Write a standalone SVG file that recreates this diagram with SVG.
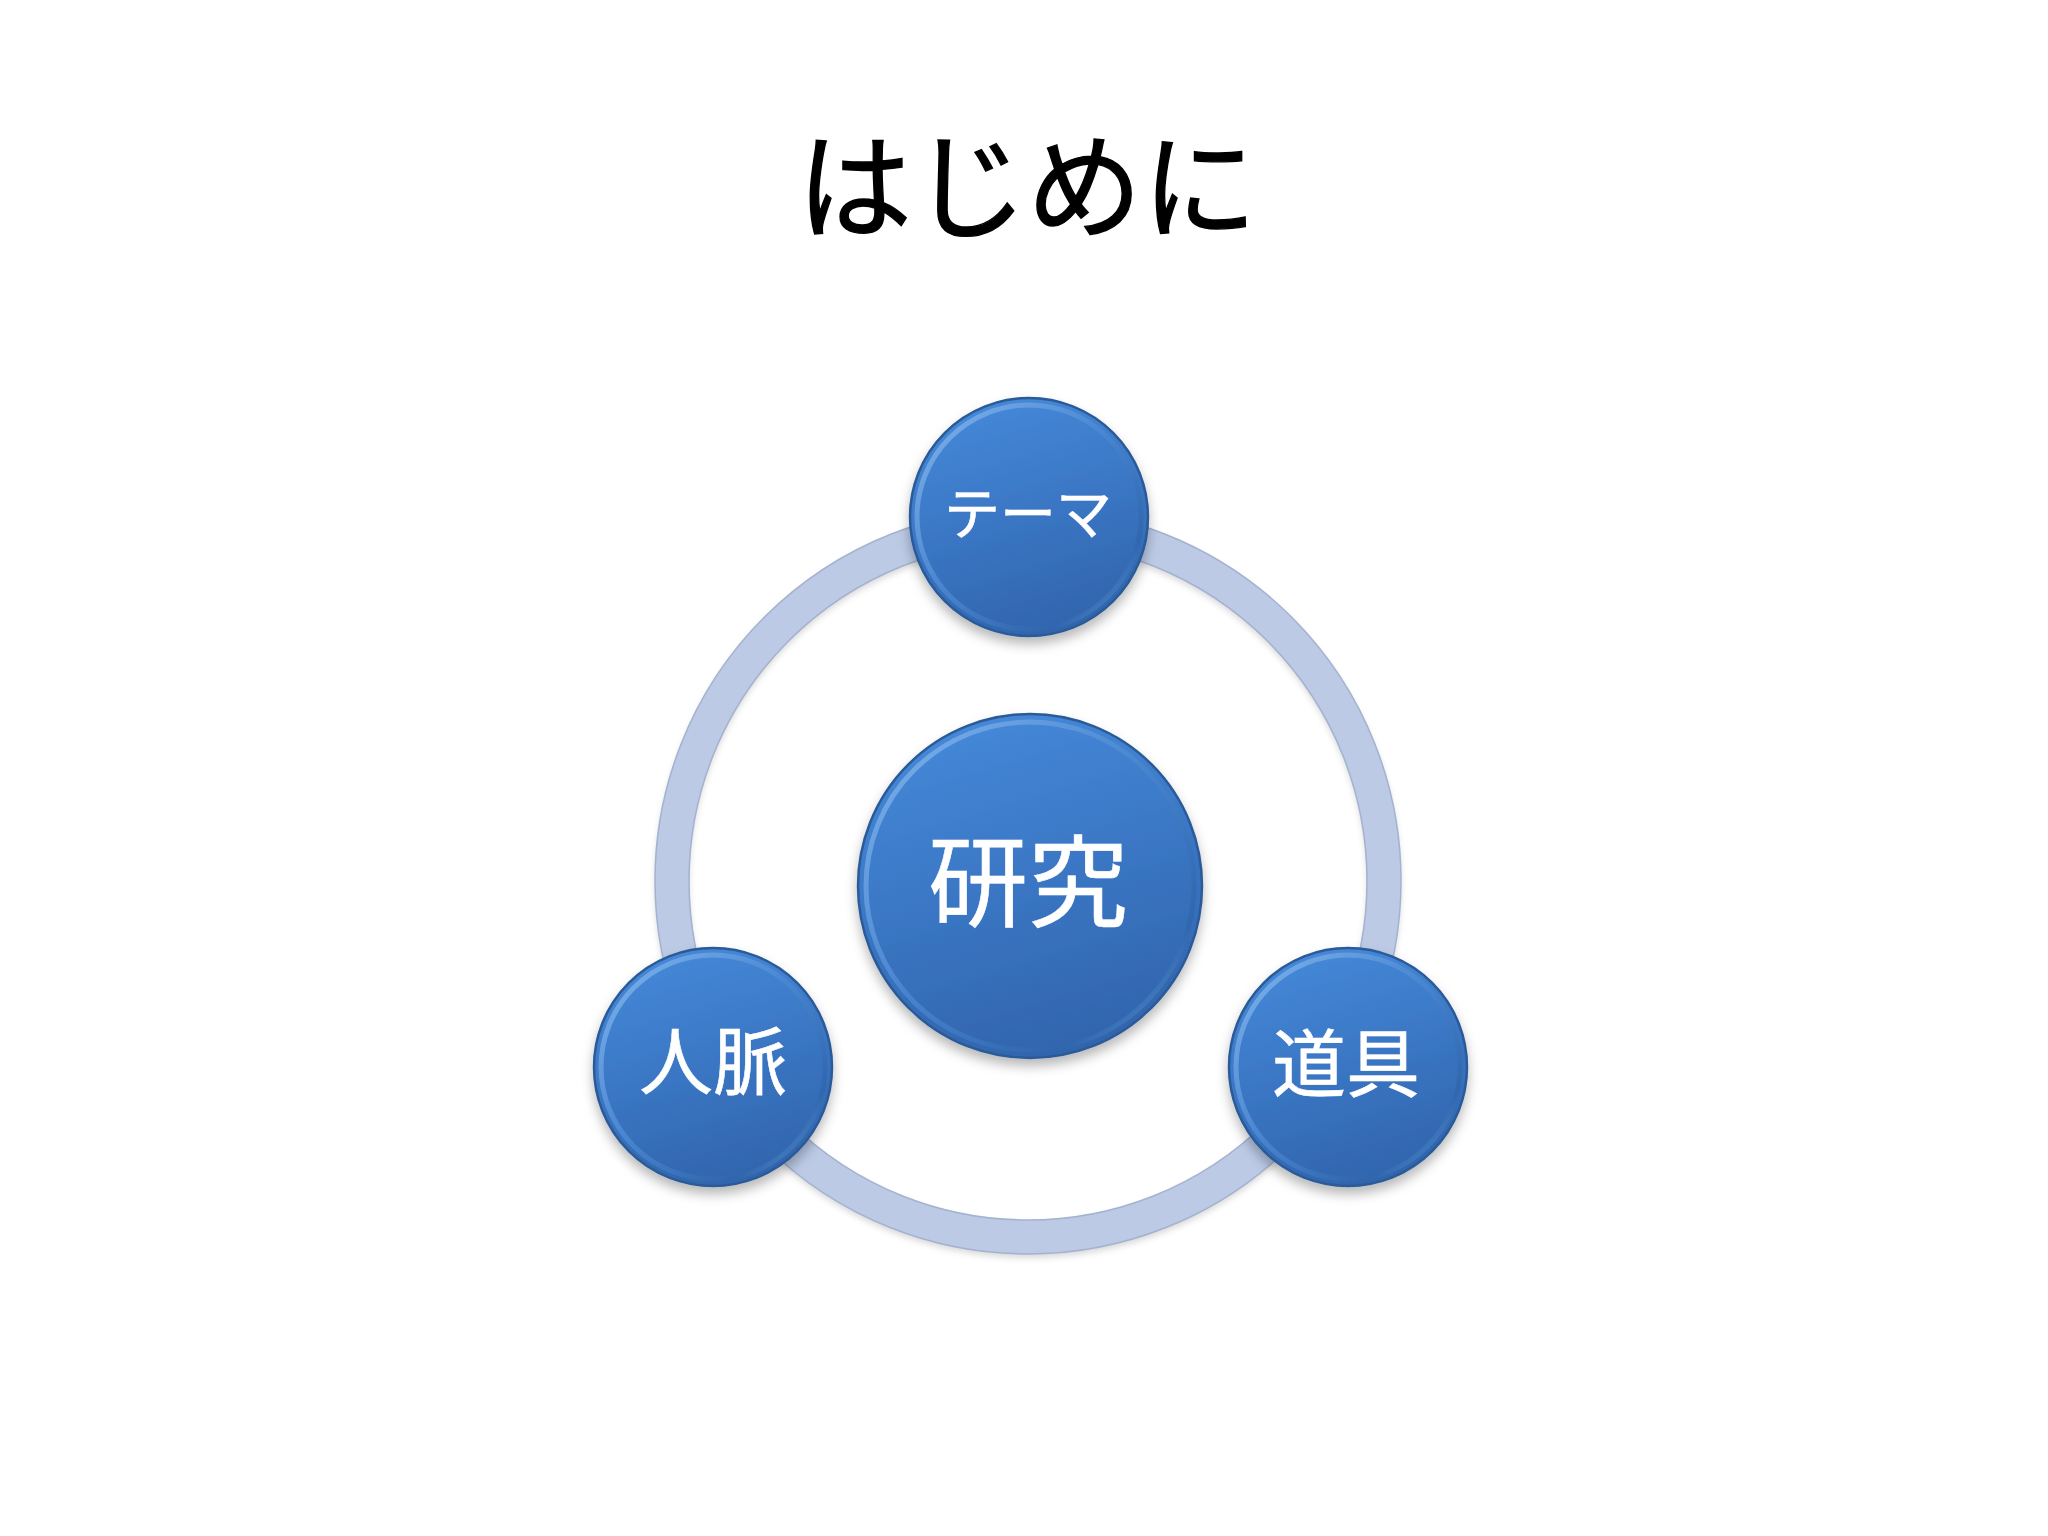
<svg xmlns="http://www.w3.org/2000/svg" xmlns:xlink="http://www.w3.org/1999/xlink" width="2048" height="1536" viewBox="0 0 2048 1536">
  <defs>
    <linearGradient id="fillGrad" x1="0.3" y1="0" x2="0.6" y2="1">
      <stop offset="0" stop-color="#4589d8"/>
      <stop offset="0.5" stop-color="#3a76c4"/>
      <stop offset="1" stop-color="#3164ab"/>
    </linearGradient>
    <linearGradient id="bevelGrad" x1="0" y1="0" x2="1" y2="1">
      <stop offset="0" stop-color="#8cbcf0"/>
      <stop offset="0.45" stop-color="#4d8ad4"/>
      <stop offset="0.8" stop-color="#2f66ad"/>
      <stop offset="1" stop-color="#6aa6e6"/>
    </linearGradient>
    <filter id="shadow" x="-20%" y="-20%" width="140%" height="150%">
      <feDropShadow dx="0" dy="7" stdDeviation="6" flood-color="#000" flood-opacity="0.28"/>
    </filter>
    <filter id="ringShadow" x="-10%" y="-10%" width="120%" height="120%">
      <feDropShadow dx="0" dy="4" stdDeviation="3" flood-color="#000" flood-opacity="0.15"/>
    </filter>
  </defs>
  <style>
    .title { font-family: "Noto Sans CJK JP", "Noto Sans", sans-serif; font-size: 115px; font-weight: 400; fill: #000; stroke: #000; stroke-width: 1.3; text-anchor: middle; }
    .label { font-family: "Noto Sans CJK JP", "Noto Sans", sans-serif; font-weight: 400; fill: #fff; stroke: #fff; stroke-width: 0.6; text-anchor: middle; }
    .disc { fill: url(#fillGrad); stroke: #2a5a98; stroke-width: 2.5; filter: url(#shadow); }
    .bevel { fill: none; stroke: url(#bevelGrad); stroke-width: 5; opacity: 0.85; }
    .ring { fill: none; stroke: #bccae6; stroke-width: 34; filter: url(#ringShadow); }
    .ringEdge { fill: none; stroke: #a3b2cf; stroke-width: 1.5; }
  </style>
  <rect width="2048" height="1536" fill="#ffffff"/>
  <text class="title" x="1027" y="229">はじめに</text>

  <g id="connectors">
    <circle class="ring" cx="1028" cy="881" r="356"/>
    <circle class="ringEdge" cx="1028" cy="881" r="373"/>
    <circle class="ringEdge" cx="1028" cy="881" r="339"/>
  </g>

  <g id="node-center">
    <circle class="disc" cx="1030" cy="886" r="172"/>
    <circle class="bevel" cx="1030" cy="886" r="164"/>
    <text class="label" x="1028" y="919" font-size="100">研究</text>
  </g>

  <g id="node-theme">
    <circle class="disc" cx="1029" cy="517" r="119"/>
    <circle class="bevel" cx="1029" cy="517" r="112"/>
    <text class="label" x="1028" y="534" font-size="56">テーマ</text>
  </g>

  <g id="node-jinmyaku">
    <circle class="disc" cx="713" cy="1067" r="119"/>
    <circle class="bevel" cx="713" cy="1067" r="112"/>
    <text class="label" x="713" y="1089" font-size="74">人脈</text>
  </g>

  <g id="node-dougu">
    <circle class="disc" cx="1348" cy="1067" r="119"/>
    <circle class="bevel" cx="1348" cy="1067" r="112"/>
    <text class="label" x="1346" y="1091" font-size="74">道具</text>
  </g>
</svg>
